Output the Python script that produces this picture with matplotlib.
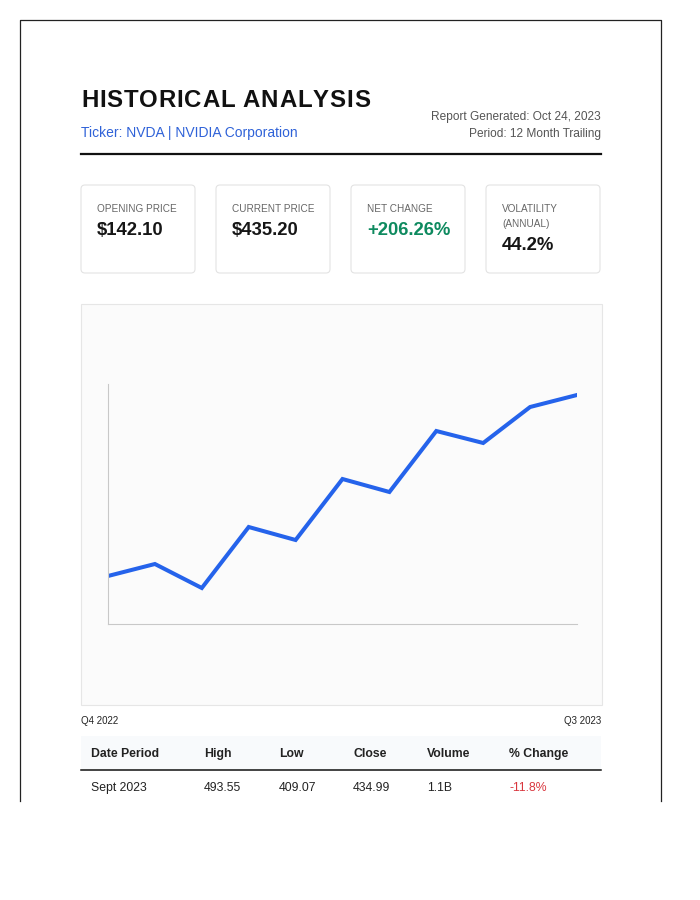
import matplotlib
matplotlib.use("Agg")
import matplotlib.pyplot as plt
from matplotlib.patches import Rectangle, FancyBboxPatch

plt.rcParams['font.family'] = ['Liberation Sans', 'DejaVu Sans']

# header / summary data
title = "HISTORICAL ANALYSIS"
ticker = "Ticker: NVDA | NVIDIA Corporation"
meta = ["Report Generated: Oct 24, 2023", "Period: 12 Month Trailing"]
card_labels = [["OPENING PRICE"], ["CURRENT PRICE"], ["NET CHANGE"], ["VOLATILITY", "(ANNUAL)"]]
card_values = ["$142.10", "$435.20", "+206.26%", "44.2%"]
card_colors = ["#161616", "#161616", "#0e8a5f", "#161616"]

# price trend (relative chart units)
trend = [48, 60, 36, 97, 84, 145, 132, 193, 181, 217, 229]
period_start, period_end = "Q4 2022", "Q3 2023"

# table
columns = ["Date Period", "High", "Low", "Close", "Volume", "% Change"]
row = ["Sept 2023", "493.55", "409.07", "434.99", "1.1B", "-11.8%"]

W, H = 700, 900
fig = plt.figure(figsize=(7, 9), dpi=100)
page = fig.add_axes([0, 0, 1, 1])
page.set_xlim(0, W); page.set_ylim(H, 0); page.axis('off')

# page border (open at the bottom)
page.plot([20, 20, 661, 661], [801, 20, 20, 801], color='#222', lw=0.9)

# title with letter spacing
fig.canvas.draw()
r = fig.canvas.get_renderer()
widths = []
for ch in title:
    if ch == " ":
        widths.append(6)
        continue
    t = page.text(0, 0, ch, fontsize=17.3, fontweight='bold')
    widths.append(t.get_window_extent(r).width)
    t.remove()
gap = (370 - 81 - sum(widths)) / (len(title) - 1)
x = 81
for ch, w in zip(title, widths):
    page.text(x, 107, ch, fontsize=17.3, fontweight='bold', color='#111', va='baseline')
    x += w + gap

page.text(81, 137, ticker, fontsize=10, color='#2f62d8', va='baseline')
page.text(601, 120, meta[0], fontsize=8.6, color='#555', va='baseline', ha='right')
page.text(601, 137, meta[1], fontsize=8.6, color='#555', va='baseline', ha='right')
page.plot([81, 601], [154, 154], color='#111', lw=1.6)

# summary cards
for i, (lab, val, col) in enumerate(zip(card_labels, card_values, card_colors)):
    x0 = 81 + i * 135
    page.add_patch(FancyBboxPatch((x0, 185), 114, 88, boxstyle="round,pad=0,rounding_size=4",
                                  fc='white', ec='#e3e3e3', lw=0.8))
    for j, l in enumerate(lab):
        page.text(x0 + 16, 212 + j * 15, l, fontsize=7.2, color='#666', va='baseline')
    page.text(x0 + 16, 235 + (len(lab) - 1) * 15, val, fontsize=13.3, fontweight='bold',
              color=col, va='baseline')

# chart container
page.add_patch(Rectangle((81, 304), 521, 401, fc='#fbfbfb', ec='#e6e6e6', lw=0.8))
page.text(81, 724, period_start, fontsize=7, color='#222', va='baseline')
page.text(601, 724, period_end, fontsize=7, color='#222', va='baseline', ha='right')

ax = fig.add_axes([108 / W, 1 - 624 / H, 469 / W, 240 / H])
ax.patch.set_alpha(0)
ax.plot(range(len(trend)), trend, color='#2563eb', lw=2.9, solid_joinstyle='miter')
ax.set_xlim(0, len(trend) - 1)
ax.set_ylim(0, 240)
for s in ['top', 'right']:
    ax.spines[s].set_visible(False)
for s in ['left', 'bottom']:
    ax.spines[s].set_color('#c8c8c8')
    ax.spines[s].set_linewidth(0.8)
ax.set_xticks([]); ax.set_yticks([])

# table
page.add_patch(Rectangle((81, 736), 520, 34, fc='#f8fafc', ec='none'))
page.plot([81, 601], [770, 770], color='#111', lw=1.1)
col_x = [91, 204, 279, 353, 427, 509]
for cx, c in zip(col_x, columns):
    page.text(cx, 757, c, fontsize=8.8, fontweight='bold', color='#222', va='baseline')
for k, (cx, v) in enumerate(zip(col_x, row)):
    color = '#d9363e' if k == len(row) - 1 else '#222'
    page.text(cx, 791, v, fontsize=8.8, color=color, va='baseline')

fig.savefig("out.png", dpi=100, facecolor='white')
